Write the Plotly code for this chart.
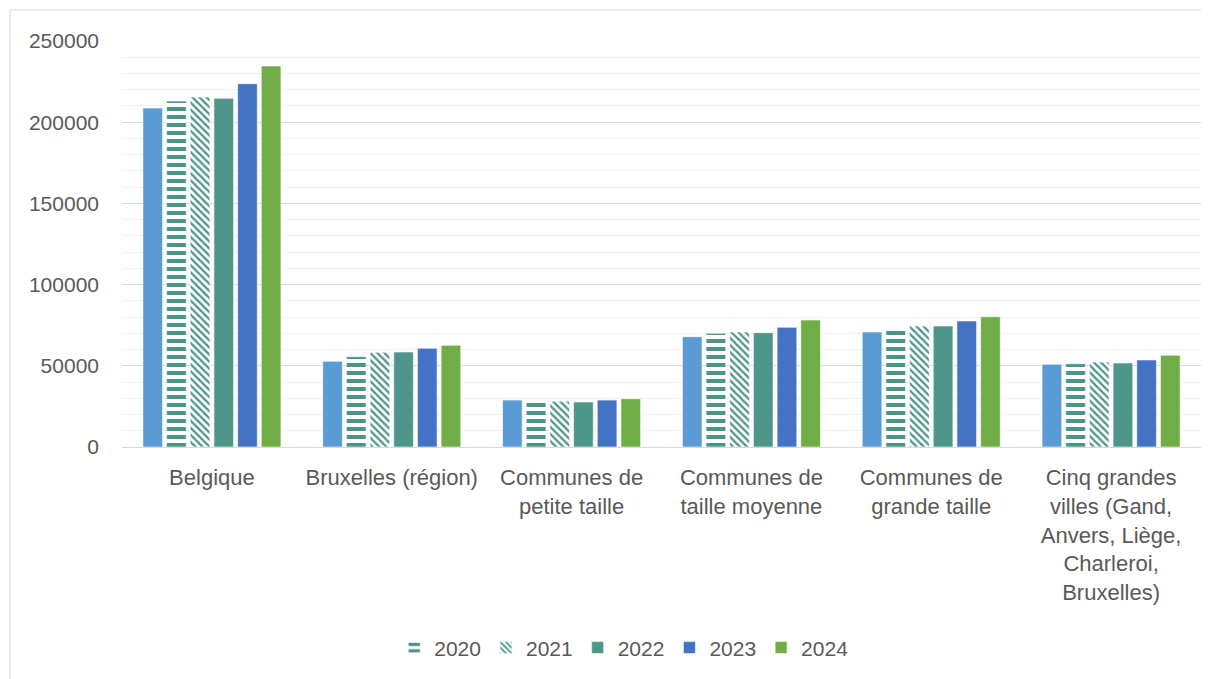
import plotly.graph_objects as go

categories = ["Belgique", "Bruxelles (région)", "Communes de<br>petite taille",
              "Communes de<br>taille moyenne", "Communes de<br>grande taille",
              "Cinq grandes<br>villes (Gand,<br>Anvers, Liège,<br>Charleroi,<br>Bruxelles)"]

v2019 = [208700, 52800, 28900, 67900, 70800, 50900]
v2020 = [213000, 55600, 28300, 70000, 72000, 51300]
v2021 = [215500, 58300, 28200, 70800, 74500, 52300]
v2022 = [214700, 58500, 27700, 70400, 74500, 51700]
v2023 = [223700, 60800, 28900, 73700, 77600, 53600]
v2024 = [234600, 62600, 29700, 78200, 80200, 56500]

TEAL = "#4A9488"
FONT = "Liberation Sans"
GREY = "#595959"
FS = 21

fig = go.Figure()
line = dict(color="rgba(255,255,255,0.6)", width=1)
fig.add_trace(go.Bar(x=categories, y=v2019, name="2019", showlegend=False,
                     marker=dict(color="#5B9BD5", line=line)))
fig.add_trace(go.Bar(x=categories, y=v2020, name="2020",
                     marker=dict(color="white", line=line,
                                 pattern=dict(shape="-", fgcolor=TEAL, bgcolor="white",
                                              size=8, solidity=0.5, fillmode="replace"))))
fig.add_trace(go.Bar(x=categories, y=v2021, name="2021",
                     marker=dict(color="white", line=line,
                                 pattern=dict(shape="\\", fgcolor=TEAL, bgcolor="white",
                                              size=5, solidity=0.45, fillmode="replace"))))
fig.add_trace(go.Bar(x=categories, y=v2022, name="2022",
                     marker=dict(color="#4E968A", line=line)))
fig.add_trace(go.Bar(x=categories, y=v2023, name="2023",
                     marker=dict(color="#4472C4", line=line)))
fig.add_trace(go.Bar(x=categories, y=v2024, name="2024",
                     marker=dict(color="#70AD47", line=line)))

OFF = 8  # page body margin
W, H = 1209 - OFF, 679 - OFF
L, R, T, B = 122 - OFF, 16 - OFF, 41 - OFF, 232
pw, ph = W - L - R, H - T - B

fig.update_layout(
    width=W, height=H,
    margin=dict(l=L, r=R, t=T, b=B),
    paper_bgcolor="white", plot_bgcolor="white",
    barmode="group", bargap=0.21, bargroupgap=0.17,
    font=dict(family=FONT, size=FS, color=GREY),
    showlegend=True,
    legend=dict(orientation="h", x=0.465, xanchor="center", y=-0.495, yanchor="middle",
                font=dict(family=FONT, size=FS, color=GREY), itemwidth=30,
                traceorder="normal"),
    xaxis=dict(showline=True, linecolor="#D9D9D9", linewidth=1, ticks="",
               tickfont=dict(family=FONT, size=22, color=GREY), ticklabelstandoff=11),
    yaxis=dict(range=[0, 250000], dtick=50000, tick0=0, showgrid=True, tickformat="d",
               gridcolor="#D9D9D9", gridwidth=1, zeroline=False, showline=False,
               tickfont=dict(family=FONT, size=FS, color=GREY), ticklabelstandoff=22,
               minor=dict(dtick=10000, showgrid=True, gridcolor="#F0F0F0", gridwidth=1)),
    shapes=[dict(type="rect", xref="paper", yref="paper",
                 x0=(2 - L) / pw, x1=(W + 20 - L) / pw,
                 y0=-(H + 20 - T - ph) / ph, y1=1 + (T - 2) / ph,
                 line=dict(color="#D9D9D9", width=1), layer="below")],
)

fig.write_html("out.html")
